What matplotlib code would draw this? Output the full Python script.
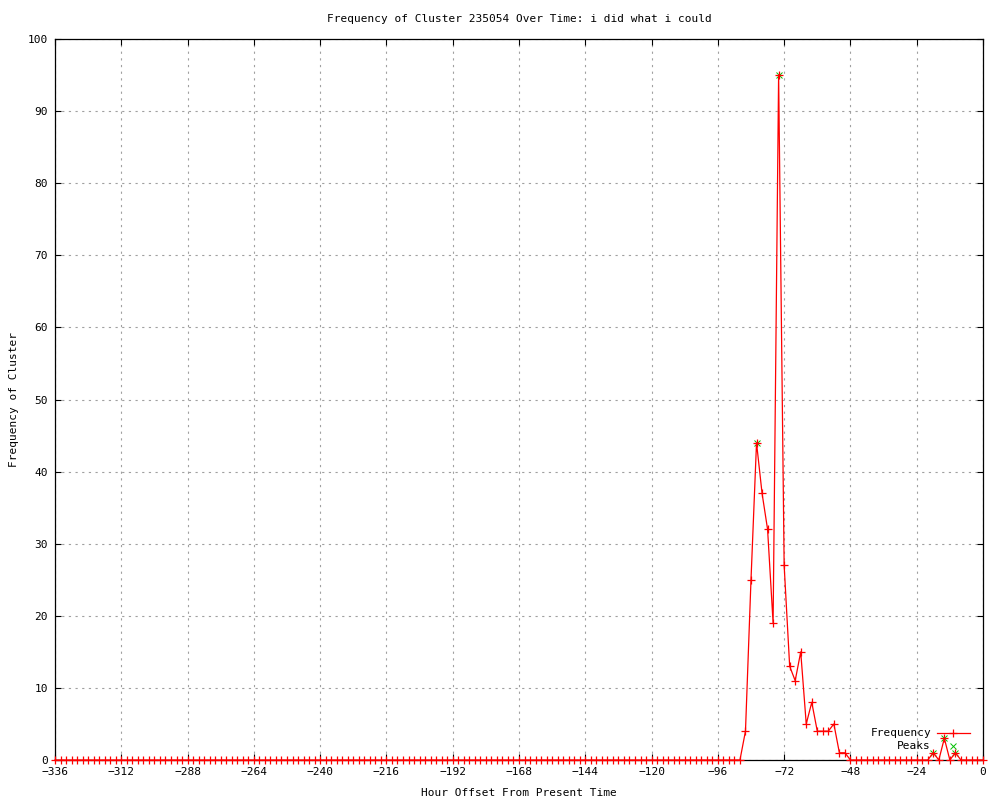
import numpy as np
import matplotlib
matplotlib.use("Agg")
import matplotlib.pyplot as plt

plt.rcParams['font.family'] = ['DejaVu Sans Mono']

# Hour offsets (every 2 hours from -336 to 0)
hours = np.arange(-336, 1, 2)

frequency = [
    0, 0, 0, 0, 0, 0, 0, 0, 0, 0, 0, 0, 0, 0, 0, 0, 0, 0, 0, 0, 0, 0, 0, 0,   # -336 .. -290
    0, 0, 0, 0, 0, 0, 0, 0, 0, 0, 0, 0, 0, 0, 0, 0, 0, 0, 0, 0, 0, 0, 0, 0,   # -288 .. -242
    0, 0, 0, 0, 0, 0, 0, 0, 0, 0, 0, 0, 0, 0, 0, 0, 0, 0, 0, 0, 0, 0, 0, 0,   # -240 .. -194
    0, 0, 0, 0, 0, 0, 0, 0, 0, 0, 0, 0, 0, 0, 0, 0, 0, 0, 0, 0, 0, 0, 0, 0,   # -192 .. -146
    0, 0, 0, 0, 0, 0, 0, 0, 0, 0, 0, 0, 0, 0, 0, 0, 0, 0, 0, 0, 0, 0, 0, 0,   # -144 .. -98
    0, 0, 0, 0, 0, 4, 25, 44, 37, 32, 19, 95, 27, 13, 11, 15, 5, 8, 4, 4, 4, 5, 1, 1,  # -96 .. -50
    0, 0, 0, 0, 0, 0, 0, 0, 0, 0, 0, 0, 0, 0, 0, 1, 0, 3, 0, 1, 0, 0, 0, 0,   # -48 .. -2
    0,                                                                         # 0
]

peak_hours = [-82, -74, -18, -14, -10]
peak_values = [44, 95, 1, 3, 1]

x_ticks = list(range(-336, 1, 24))
y_ticks = list(range(0, 101, 10))

title = "Frequency of Cluster 235054 Over Time: i did what i could"
x_label = "Hour Offset From Present Time"
y_label = "Frequency of Cluster"

fig = plt.figure(figsize=(10, 8), dpi=100)
ax = fig.add_axes([0.055, 0.05, 0.928, 0.90125])

ax.plot(peak_hours, peak_values, linestyle='none', marker='x', color='#00c000',
        markersize=5, markeredgewidth=0.7, zorder=3)
ax.plot(hours, frequency, color='red', linewidth=0.9, marker='+', markersize=6,
        markeredgewidth=0.9, zorder=4, clip_on=False)

ax.set_xlim(-336, 0)
ax.set_ylim(0, 100)
ax.set_xticks(x_ticks)
ax.set_yticks(y_ticks)
ax.tick_params(direction='in', length=4.5, width=0.8, top=True, right=True,
               labelsize=8, pad=5, colors='black')
ax.grid(True, color='#a0a0a0', linestyle=(0, (2, 4)), linewidth=0.8)
for s in ax.spines.values():
    s.set_linewidth(0.9)
    s.set_color('black')

ax.set_title(title, fontsize=8, pad=12.5)
ax.set_xlabel(x_label, fontsize=8, labelpad=8)
ax.set_ylabel(y_label, fontsize=8, labelpad=6.5)

# Legend (gnuplot style: right-aligned text, sample to the right)
ax.text(0.944, 0.0374, "Frequency", transform=ax.transAxes, ha='right',
        va='center', fontsize=8)
ax.plot([0.950, 0.986], [0.0374, 0.0374], transform=ax.transAxes, color='red',
        linewidth=0.9, clip_on=False)
ax.plot([0.968], [0.0374], transform=ax.transAxes, color='red', marker='+',
        markersize=6, markeredgewidth=0.9, clip_on=False)
ax.text(0.944, 0.0194, "Peaks", transform=ax.transAxes, ha='right',
        va='center', fontsize=8)
ax.plot([0.968], [0.0194], transform=ax.transAxes, color='#00c000', marker='x',
        markersize=5, markeredgewidth=0.7, linestyle='none', clip_on=False)

fig.savefig("out.png", dpi=100)
